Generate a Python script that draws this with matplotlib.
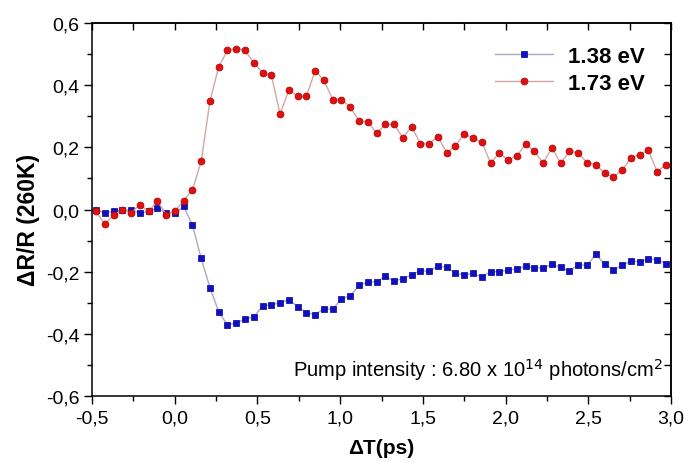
import numpy as np
import matplotlib.pyplot as plt
from matplotlib.ticker import MultipleLocator, FuncFormatter

# =============================
# DATA
# =============================

delay_ps = [
    -0.476, -0.423, -0.370, -0.317, -0.264, -0.211, -0.158, -0.105, -0.052, 0.001,
    0.054, 0.107, 0.160, 0.213, 0.266, 0.319, 0.372, 0.425, 0.478, 0.531,
    0.584, 0.637, 0.690, 0.743, 0.796, 0.849, 0.902, 0.955, 1.008, 1.061,
    1.114, 1.167, 1.220, 1.273, 1.326, 1.379, 1.432, 1.485, 1.538, 1.591,
    1.644, 1.697, 1.750, 1.803, 1.856, 1.909, 1.962, 2.015, 2.068, 2.121,
    2.174, 2.227, 2.280, 2.333, 2.386, 2.439, 2.492, 2.545, 2.598, 2.651,
    2.704, 2.757, 2.810, 2.863, 2.916, 2.969,
]

dr_138 = [
    0.000, -0.011, -0.006, -0.003, 0.000, -0.012, -0.006, 0.005, -0.011, -0.011,
    0.010, -0.049, -0.157, -0.251, -0.329, -0.372, -0.364, -0.353, -0.346, -0.310,
    -0.306, -0.300, -0.290, -0.312, -0.332, -0.338, -0.319, -0.321, -0.287, -0.278,
    -0.244, -0.233, -0.233, -0.215, -0.230, -0.222, -0.210, -0.197, -0.199, -0.182,
    -0.185, -0.205, -0.210, -0.205, -0.217, -0.200, -0.200, -0.195, -0.191, -0.182,
    -0.188, -0.188, -0.176, -0.186, -0.198, -0.177, -0.180, -0.144, -0.175, -0.194,
    -0.180, -0.166, -0.168, -0.160, -0.161, -0.174,
]

dr_173 = [
    -0.006, -0.047, -0.019, -0.001, -0.011, 0.015, -0.006, 0.028, -0.016, -0.006,
    0.029, 0.063, 0.155, 0.349, 0.460, 0.512, 0.518, 0.512, 0.473, 0.440,
    0.433, 0.307, 0.385, 0.365, 0.365, 0.447, 0.416, 0.354, 0.354, 0.330,
    0.285, 0.283, 0.246, 0.274, 0.274, 0.231, 0.267, 0.212, 0.212, 0.235,
    0.183, 0.205, 0.244, 0.229, 0.218, 0.150, 0.182, 0.160, 0.172, 0.212,
    0.187, 0.150, 0.199, 0.149, 0.187, 0.183, 0.151, 0.145, 0.117, 0.105,
    0.126, 0.165, 0.177, 0.191, 0.122, 0.145,
]

labels = ["1.38 eV", "1.73 eV"]

# =============================
# PLOT
# =============================

plt.rcParams["font.family"] = ["Liberation Sans", "DejaVu Sans"]

fig = plt.figure(figsize=(6.84, 4.64), dpi=100)
ax = fig.add_axes([0.1345, 0.1444, 0.8465, 0.8036])

ax.plot(delay_ps, dr_138, color="#a8a8c8", lw=1.0, marker="s", ms=4.5,
        mfc="#1010c0", mec="#0000a0", mew=0.5, label=labels[0])
ax.plot(delay_ps, dr_173, color="#d0a8a8", lw=1.0, marker="o", ms=5,
        mfc="#e01010", mec="#b00000", mew=0.5, label=labels[1])

ax.set_xlim(-0.5, 3.0)
ax.set_ylim(-0.6, 0.6)
ax.xaxis.set_major_locator(MultipleLocator(0.5))
ax.xaxis.set_minor_locator(MultipleLocator(0.25))
ax.yaxis.set_major_locator(MultipleLocator(0.2))
ax.yaxis.set_minor_locator(MultipleLocator(0.1))

comma = FuncFormatter(lambda v, p: f"{v:.1f}".replace(".", ","))
ax.xaxis.set_major_formatter(comma)
ax.yaxis.set_major_formatter(comma)

# left / bottom ticks point out, labelled
ax.tick_params(which="both", direction="out", labelsize=14, width=1)
ax.tick_params(axis="y", which="major", length=6, pad=3)
ax.tick_params(axis="x", which="major", length=6, pad=4)
ax.tick_params(which="minor", length=3.5)

# top / right ticks point in, unlabelled
top = ax.secondary_xaxis("top")
top.xaxis.set_major_locator(MultipleLocator(0.25))
top.tick_params(direction="in", length=5, width=1, labeltop=False)
right = ax.secondary_yaxis("right")
right.yaxis.set_major_locator(MultipleLocator(0.1))
right.tick_params(direction="in", length=5, width=1, labelright=False)

for s in ax.spines.values():
    s.set_linewidth(1.1)
top.spines["top"].set_linewidth(1.1)
right.spines["right"].set_linewidth(1.1)

ax.set_xlabel("ΔT(ps)", fontsize=15, fontweight="bold", labelpad=8)
ax.set_ylabel("ΔR/R (260K)", fontsize=16.5, fontweight="bold")
ax.yaxis.set_label_coords(-0.09, 0.475)

ax.legend(loc="upper left", bbox_to_anchor=(0.696, 0.94), frameon=False,
          prop={"size": 16, "weight": "bold"}, handlelength=2.6,
          handletextpad=0.7, borderaxespad=0, borderpad=0, labelspacing=0.3)

ax.text(0.985, 0.054, r"Pump intensity : 6.80 x 10$^{14}$ photons/cm$^{2}$",
        transform=ax.transAxes, ha="right", va="baseline", fontsize=14.5)

fig.savefig("out.png", dpi=100)
